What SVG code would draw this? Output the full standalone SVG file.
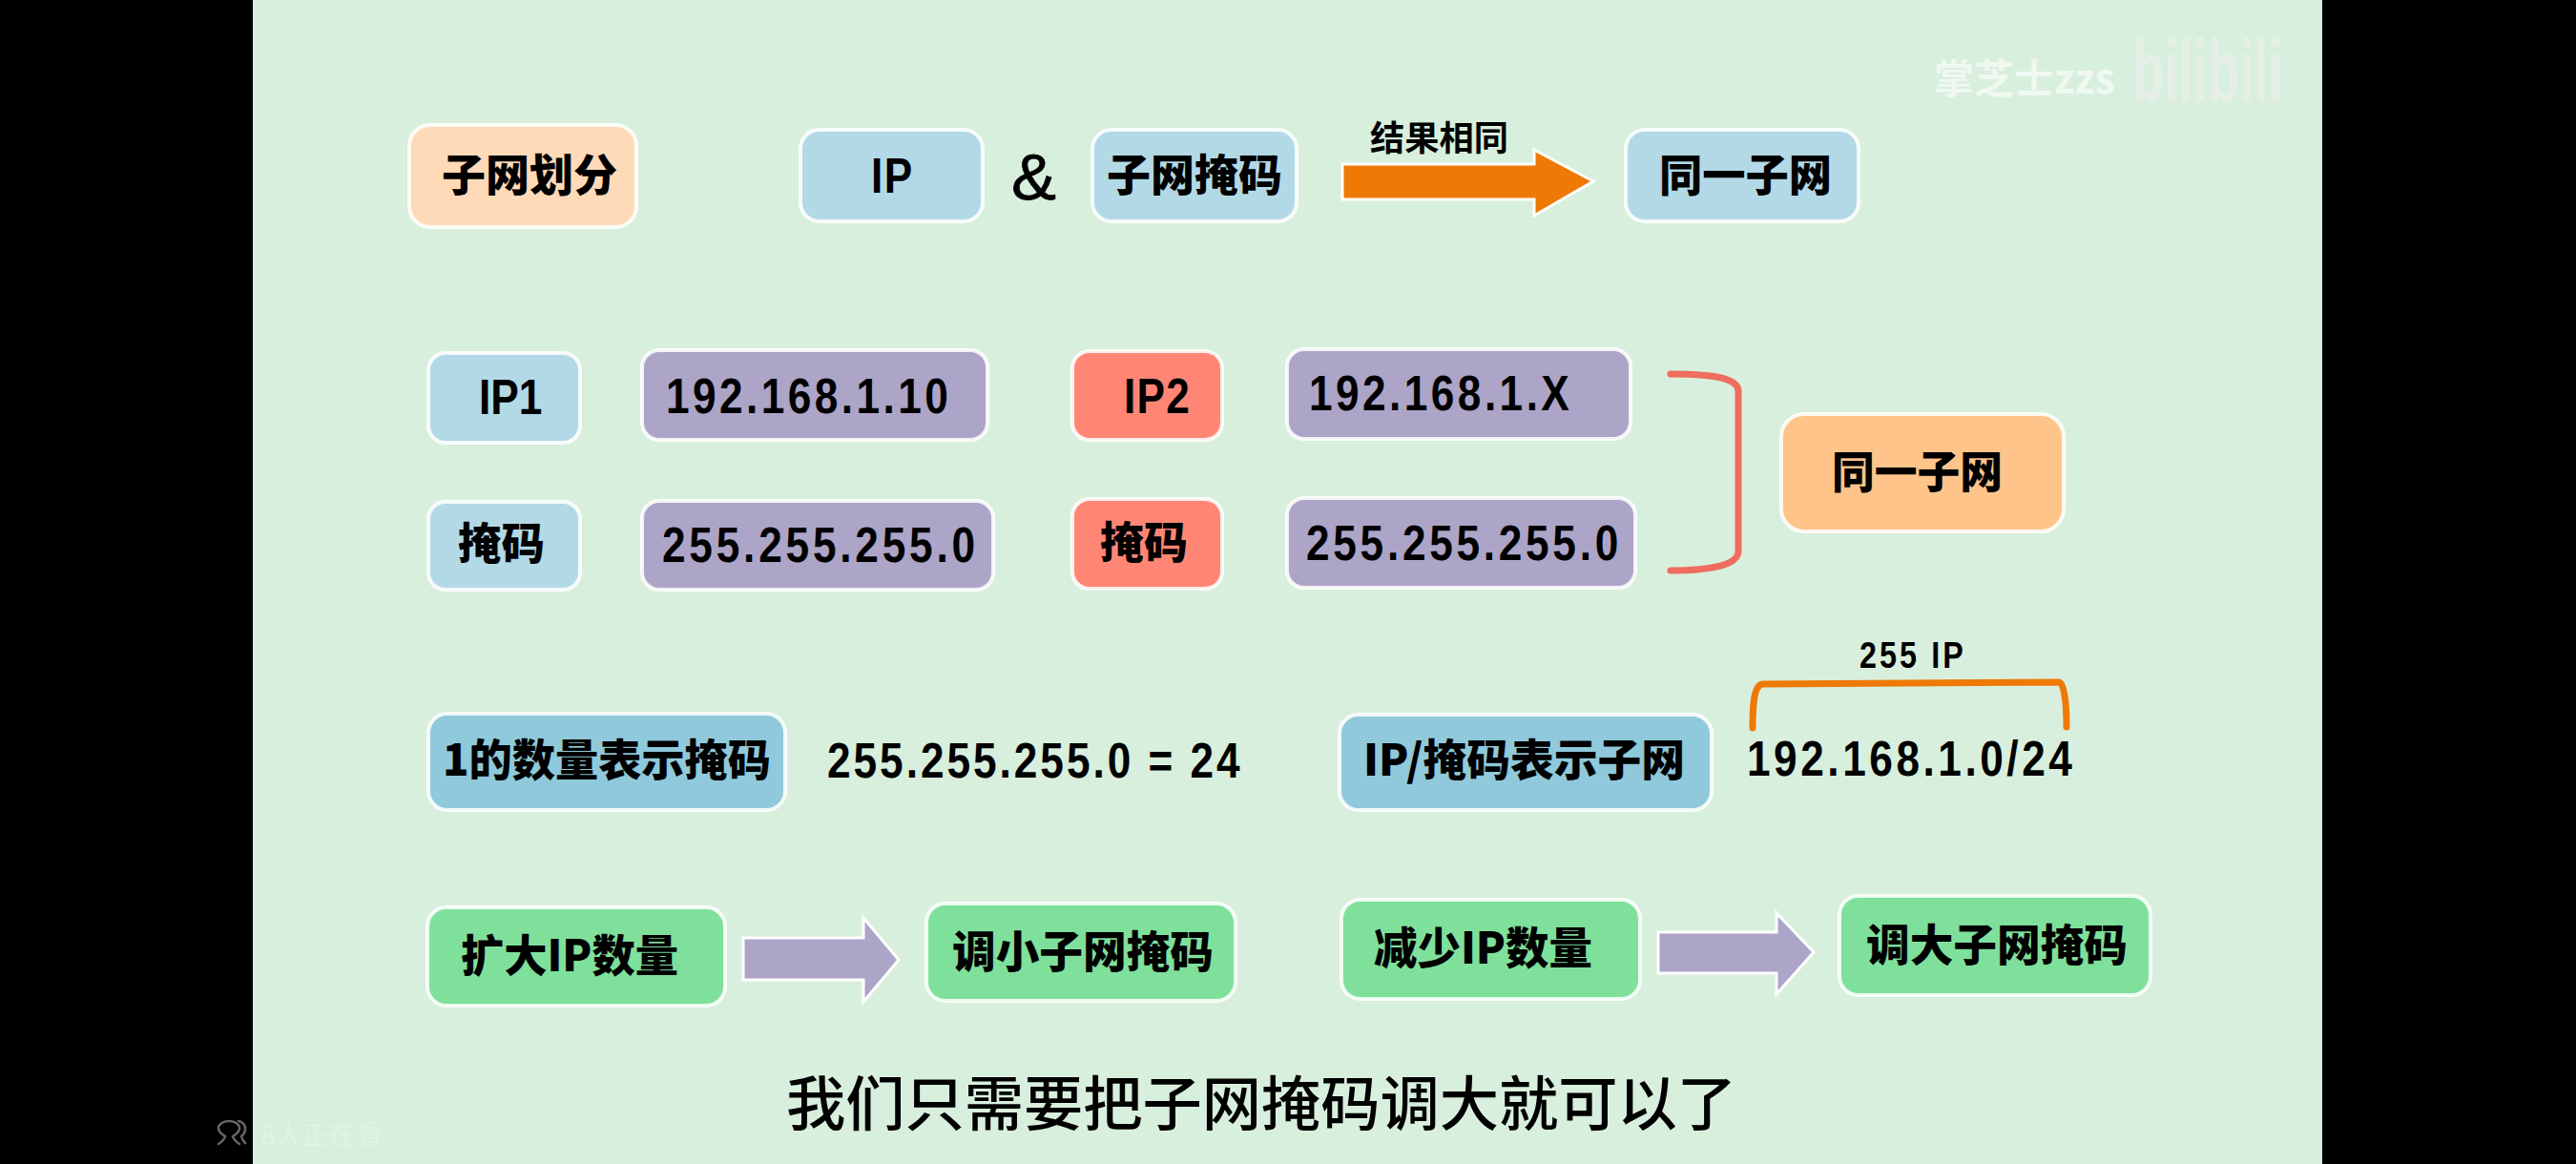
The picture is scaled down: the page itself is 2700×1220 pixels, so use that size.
<svg xmlns="http://www.w3.org/2000/svg" width="2700" height="1220" viewBox="0 0 2700 1220">
<style>
.b{stroke:#fff;stroke-width:4;stroke-opacity:.85}
.blue{fill:#B3D9E7}.peach{fill:#FFDAB8}.pur{fill:#ADA5C8}.red{fill:#FF8675}.org{fill:#FFC48A}.teal{fill:#8FC9DB}.grn{fill:#7FE09C}
.c{font-family:"Noto Sans CJK SC","Noto Sans",sans-serif;font-weight:900;fill:#000}
.l{font-family:"Liberation Sans",Arial,sans-serif;font-weight:700;font-size:52px;fill:#000}
.ar{fill:#ADA5C8;stroke:#fff;stroke-width:3}
</style>
<rect width="2700" height="1220" fill="#000"/>
<rect x="265" width="2169" height="1220" fill="#D9EFDD"/>
<g id="watermark">
<text x="2027" y="98" font-size="42" fill="#fff" fill-opacity=".6" font-weight="700" font-family="'Noto Sans CJK SC',sans-serif">掌芝士zzs</text>
<text x="2235" y="106" font-size="92" fill="#eee" fill-opacity=".6" font-weight="700" font-family="'Liberation Sans',sans-serif" textLength="158" lengthAdjust="spacingAndGlyphs">bilibili</text>
</g>
<g id="viewers">
<g fill="none" stroke="#666" stroke-width="2.5" stroke-linecap="round"><path d="M229 1199q6-4 7-8q-8-5-7-10a12 10 0 0 1 22 0q1 5-7 10q1 4 7 8"/><path d="M250 1175a8 8 0 0 1 7 8q0 5-4 8q1 4 4 7"/></g>
<text x="273" y="1200" font-size="28" fill="#fff" fill-opacity=".2" font-family="'Noto Sans CJK SC',sans-serif">8人正在看</text>
</g>
<g id="n-title"><rect class="b peach" x="429" y="131" width="238" height="107" rx="22"/><text class="c" x="463" y="200" font-size="46" textLength="184" lengthAdjust="spacingAndGlyphs">子网划分</text></g>
<g id="n-ip"><rect class="b blue" x="839" y="136" width="191" height="96" rx="20"/><text class="l" transform="translate(913 202) scale(.85 1)" textLength="51" lengthAdjust="spacing">IP</text></g>
<g id="n-and"><text x="1060" y="209" font-size="68" fill="#000" stroke="#000" stroke-width=".8" font-family="'Liberation Sans',sans-serif" textLength="47" lengthAdjust="spacingAndGlyphs">&amp;</text></g>
<g id="n-mask"><rect class="b blue" x="1145" y="136" width="214" height="96" rx="20"/><text class="c" x="1160" y="200" font-size="46" textLength="184" lengthAdjust="spacingAndGlyphs">子网掩码</text></g>
<g id="n-same"><rect class="b blue" x="1704" y="136" width="244" height="96" rx="20"/><text class="c" x="1739" y="200" font-size="46" textLength="181" lengthAdjust="spacingAndGlyphs">同一子网</text></g>
<g id="n-result"><text class="c" x="1436" y="158" font-size="36" textLength="145" lengthAdjust="spacingAndGlyphs" style="font-weight:700">结果相同</text></g>
<g id="n-ip1"><rect class="b blue" x="449" y="370" width="159" height="94" rx="18"/><text class="l" transform="translate(502 434) scale(.85 1)" textLength="78" lengthAdjust="spacing">IP1</text></g>
<g id="n-ip1v"><rect class="b pur" x="673" y="367" width="362" height="94" rx="18"/><text class="l" transform="translate(698 433) scale(.85 1)" textLength="348" lengthAdjust="spacing">192.168.1.10</text></g>
<g id="n-ip2"><rect class="b red" x="1124" y="368" width="157" height="93" rx="18"/><text class="l" transform="translate(1178 433) scale(.85 1)" textLength="81" lengthAdjust="spacing">IP2</text></g>
<g id="n-ip2v"><rect class="b pur" x="1349" y="366" width="360" height="94" rx="18"/><text class="l" transform="translate(1372 430) scale(.85 1)" textLength="321" lengthAdjust="spacing">192.168.1.X</text></g>
<g id="n-m1"><rect class="b blue" x="449" y="526" width="159" height="92" rx="18"/><text class="c" x="480" y="586" font-size="46" textLength="91" lengthAdjust="spacingAndGlyphs">掩码</text></g>
<g id="n-m1v"><rect class="b pur" x="673" y="525" width="368" height="93" rx="18"/><text class="l" transform="translate(694 589) scale(.85 1)" textLength="386" lengthAdjust="spacing">255.255.255.0</text></g>
<g id="n-m2"><rect class="b red" x="1124" y="523" width="157" height="94" rx="18"/><text class="c" x="1153" y="585" font-size="46" textLength="92" lengthAdjust="spacingAndGlyphs">掩码</text></g>
<g id="n-m2v"><rect class="b pur" x="1349" y="522" width="365" height="94" rx="18"/><text class="l" transform="translate(1369 587) scale(.85 1)" textLength="385" lengthAdjust="spacing">255.255.255.0</text></g>
<g id="n-same2"><rect class="b org" x="1867" y="434" width="296" height="123" rx="24"/><text class="c" x="1920" y="511" font-size="46" textLength="179" lengthAdjust="spacingAndGlyphs">同一子网</text></g>
<g id="n-count"><rect class="b teal" x="449" y="748" width="374" height="101" rx="20"/><text class="c" x="464" y="813" font-size="46" textLength="344" lengthAdjust="spacingAndGlyphs">1的数量表示掩码</text></g>
<g id="n-eq"><text class="l" transform="translate(867 815) scale(.85 1)" textLength="509" lengthAdjust="spacing">255.255.255.0 = 24</text></g>
<g id="n-cidr"><rect class="b teal" x="1404" y="749" width="390" height="100" rx="20"/><text class="c" x="1429" y="813" font-size="46" textLength="337" lengthAdjust="spacingAndGlyphs">IP/掩码表示子网</text></g>
<g id="n-cidrv"><text class="l" transform="translate(1831 813) scale(.85 1)" textLength="401" lengthAdjust="spacing">192.168.1.0/24</text></g>
<g id="n-255"><text class="l" transform="translate(1949 700) scale(.85 1)" textLength="128" lengthAdjust="spacing" style="font-size:38px">255 IP</text></g>
<g id="n-inc"><rect class="b grn" x="448" y="951" width="312" height="103" rx="20"/><text class="c" x="483" y="1018" font-size="46" textLength="228" lengthAdjust="spacingAndGlyphs">扩大IP数量</text></g>
<g id="n-small"><rect class="b grn" x="971" y="947" width="324" height="102" rx="20"/><text class="c" x="998" y="1014" font-size="46" textLength="274" lengthAdjust="spacingAndGlyphs">调小子网掩码</text></g>
<g id="n-dec"><rect class="b grn" x="1406" y="943" width="313" height="104" rx="20"/><text class="c" x="1440" y="1010" font-size="46" textLength="229" lengthAdjust="spacingAndGlyphs">减少IP数量</text></g>
<g id="n-big"><rect class="b grn" x="1928" y="939" width="326" height="104" rx="20"/><text class="c" x="1956" y="1007" font-size="46" textLength="274" lengthAdjust="spacingAndGlyphs">调大子网掩码</text></g>
<g id="connectors">
<path d="M1407 172H1608V157L1670 190L1608 226V209H1407Z" fill="#EE7A05" stroke="#fff" stroke-width="3"/>
<path class="ar" d="M779 983H905V962L942 1006L905 1050V1027H779Z"/>
<path class="ar" d="M1738 977H1862V957L1901 998L1862 1042V1020H1738Z"/>
<path d="M1751 392C1785 392 1822 394 1822 410V578C1822 594 1785 598 1751 598" fill="none" stroke="#EE6D5E" stroke-width="7" stroke-linecap="round"/>
<path d="M1837 763C1837 740 1838 717 1848 717L2158 715C2164 715 2166 740 2166 762" fill="none" stroke="#EE7A05" stroke-width="7" stroke-linecap="round"/>
</g>
<g id="subtitle"><text x="824" y="1180" font-size="62.4" fill="#000" font-weight="500" font-family="'Noto Sans CJK SC',sans-serif" textLength="996" lengthAdjust="spacingAndGlyphs">我们只需要把子网掩码调大就可以了</text></g>
</svg>
